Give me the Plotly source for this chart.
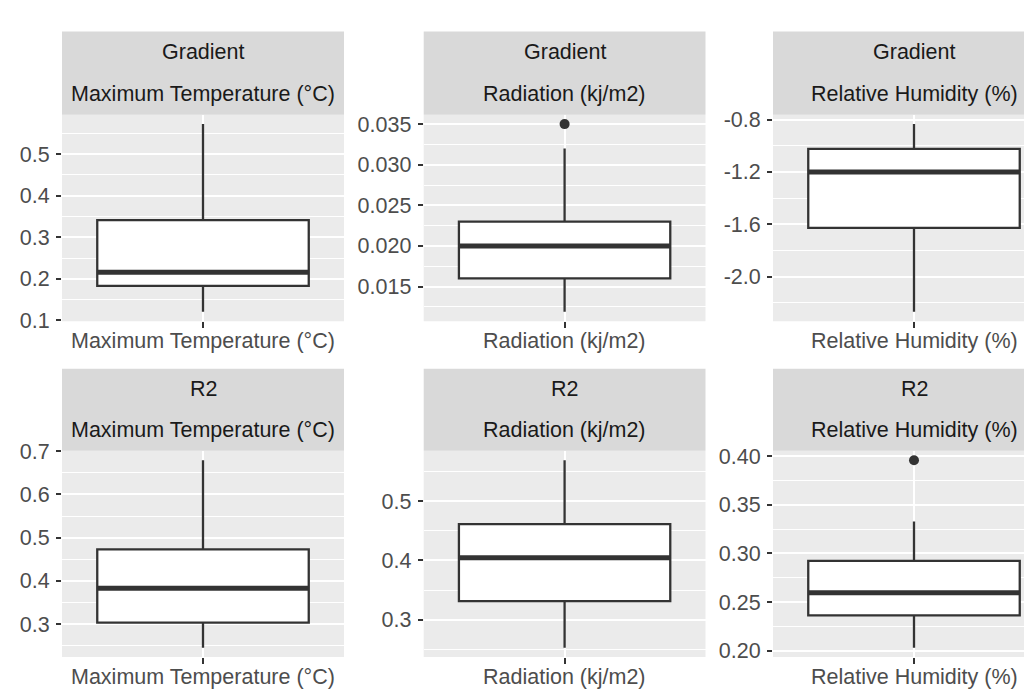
import plotly.graph_objects as go

W, H = 1032, 693

# ---------------- data ----------------
facet_rows = ["Gradient", "R2"]
variables = ["Maximum Temperature (°C)", "Radiation (kj/m2)", "Relative Humidity (%)"]

# Gradient row
grad_lowerfence = [0.121, 0.0119, -2.268]
grad_q1 = [0.183, 0.0160, -1.627]
grad_median = [0.216, 0.0200, -1.200]
grad_q3 = [0.341, 0.0230, -1.024]
grad_upperfence = [0.572, 0.0320, -0.835]
grad_outliers = [[], [0.035], []]

# R2 row
r2_lowerfence = [0.2455, 0.2532, 0.203]
r2_q1 = [0.3036, 0.3315, 0.2362]
r2_median = [0.383, 0.4044, 0.2595]
r2_q3 = [0.473, 0.461, 0.2924]
r2_upperfence = [0.679, 0.5685, 0.333]
r2_outliers = [[], [], [0.396]]

grad_tickvals = [[0.1, 0.2, 0.3, 0.4, 0.5], [0.015, 0.020, 0.025, 0.030, 0.035], [-2.0, -1.6, -1.2, -0.8]]
grad_ticktext = [["0.1", "0.2", "0.3", "0.4", "0.5"], ["0.015", "0.020", "0.025", "0.030", "0.035"],
                 ["-2.0", "-1.6", "-1.2", "-0.8"]]
r2_tickvals = [[0.3, 0.4, 0.5, 0.6, 0.7], [0.3, 0.4, 0.5], [0.20, 0.25, 0.30, 0.35, 0.40]]
r2_ticktext = [["0.3", "0.4", "0.5", "0.6", "0.7"], ["0.3", "0.4", "0.5"], ["0.20", "0.25", "0.30", "0.35", "0.40"]]

rows = [
    dict(lf=grad_lowerfence, q1=grad_q1, med=grad_median, q3=grad_q3, uf=grad_upperfence,
         out=grad_outliers, tv=grad_tickvals, tt=grad_ticktext),
    dict(lf=r2_lowerfence, q1=r2_q1, med=r2_median, q3=r2_q3, uf=r2_upperfence,
         out=r2_outliers, tv=r2_tickvals, tt=r2_ticktext),
]

# ---------------- layout (pixels) ----------------
col_x = [(54, 336), (415.7, 697.5), (765, 1047)]
row_y = [(13, 99, 312.5), (361.7, 446.7, 660)]  # strip top, panel top, panel bottom

STRIP_BG = "#D9D9D9"
PANEL_BG = "#EBEBEB"
DARK = "#333333"
FONT = "Liberation Sans, Arial, sans-serif"
FS = 21.5
BOX_W = 0.9
XLAB_OFFSET = 21  # px below panel bottom (label centre)

fig = go.Figure()
shapes = []
annotations = []
layout_axes = {}

idx = 0
for r, row in enumerate(rows):
    st, pt, pb = row_y[r]
    for c in range(3):
        idx += 1
        x0, x1 = col_x[c]
        x1v = min(x1, W)
        xr = [0.4, 0.4 + 1.2 * (x1v - x0) / (x1 - x0)]
        xa = "x" if idx == 1 else f"x{idx}"
        ya = "y" if idx == 1 else f"y{idx}"
        xkey = "xaxis" if idx == 1 else f"xaxis{idx}"
        ykey = "yaxis" if idx == 1 else f"yaxis{idx}"

        vals = [row["lf"][c], row["uf"][c]] + row["out"][c]
        lo, hi = min(vals), max(vals)
        span = hi - lo
        yr = [lo - 0.05 * span, hi + 0.05 * span]
        tv = row["tv"][c]
        step = tv[1] - tv[0]

        layout_axes[xkey] = dict(
            domain=[x0 / W, x1v / W], range=xr, anchor=ya,
            tickmode="array", tickvals=[1], ticktext=[""],
            showgrid=True, gridcolor="white", gridwidth=2, zeroline=False,
            ticks="outside", ticklen=6, tickwidth=2, tickcolor=DARK,
            tickfont=dict(family=FONT, size=FS, color="#4D4D4D"),
            showline=False, fixedrange=True,
        )
        layout_axes[ykey] = dict(
            domain=[1 - pb / H, 1 - pt / H], range=yr, anchor=xa,
            tickmode="array", tickvals=tv, ticktext=row["tt"][c],
            showgrid=True, gridcolor="white", gridwidth=2, zeroline=False,
            ticks="outside", ticklen=5, tickwidth=2, tickcolor=DARK,
            tickfont=dict(family=FONT, size=FS, color="#4D4D4D"),
            ticklabelstandoff=2,
            minor=dict(tick0=tv[0] - step / 2, dtick=step, showgrid=True,
                       gridcolor="white", gridwidth=1, ticks=""),
            showline=False, fixedrange=True,
        )

        # x-axis category label (placed like ggplot's axis text)
        annotations.append(dict(xref=xa, yref="paper", x=1, y=1 - (pb + XLAB_OFFSET) / H,
                                text=variables[c], showarrow=False, xanchor="center", yanchor="middle",
                                font=dict(family=FONT, size=FS, color="#4D4D4D")))

        # panel background
        shapes.append(dict(type="rect", xref="paper", yref="paper", layer="below",
                           x0=x0 / W, x1=x1v / W, y0=1 - pb / H, y1=1 - pt / H,
                           fillcolor=PANEL_BG, line=dict(width=0)))
        # strip background
        shapes.append(dict(type="rect", xref="paper", yref="paper", layer="below",
                           x0=x0 / W, x1=x1v / W, y0=1 - pt / H, y1=1 - st / H,
                           fillcolor=STRIP_BG, line=dict(width=0)))
        hh = (pt - st) / 2
        cx = (x0 + x1) / 2 / W
        annotations.append(dict(xref="paper", yref="paper", x=cx, y=1 - (st + hh / 2) / H,
                                text=facet_rows[r], showarrow=False, xanchor="center", yanchor="middle",
                                font=dict(family=FONT, size=FS, color="#1A1A1A")))
        annotations.append(dict(xref="paper", yref="paper", x=cx, y=1 - (st + hh * 1.5) / H,
                                text=variables[c], showarrow=False, xanchor="center", yanchor="middle",
                                font=dict(family=FONT, size=FS, color="#1A1A1A")))

        fig.add_trace(go.Box(
            x=[1], q1=[row["q1"][c]], median=[row["med"][c]], q3=[row["q3"][c]],
            lowerfence=[row["lf"][c]], upperfence=[row["uf"][c]],
            width=BOX_W, whiskerwidth=0, boxpoints=False,
            fillcolor="white", line=dict(color=DARK, width=2.3),
            xaxis=xa, yaxis=ya, showlegend=False, hoverinfo="skip",
        ))
        fig.add_trace(go.Scatter(
            x=[1 - BOX_W / 2, 1 + BOX_W / 2], y=[row["med"][c]] * 2, mode="lines",
            line=dict(color=DARK, width=5), xaxis=xa, yaxis=ya,
            showlegend=False, hoverinfo="skip",
        ))
        if row["out"][c]:
            fig.add_trace(go.Scatter(
                x=[1] * len(row["out"][c]), y=row["out"][c], mode="markers",
                marker=dict(color=DARK, size=10), xaxis=xa, yaxis=ya,
                showlegend=False, hoverinfo="skip",
            ))

fig.update_layout(
    width=W, height=H,
    margin=dict(l=0, r=0, t=0, b=0),
    paper_bgcolor="white", plot_bgcolor="rgba(0,0,0,0)",
    shapes=shapes, annotations=annotations,
    showlegend=False,
    **layout_axes,
)

fig.write_html("out.html")
